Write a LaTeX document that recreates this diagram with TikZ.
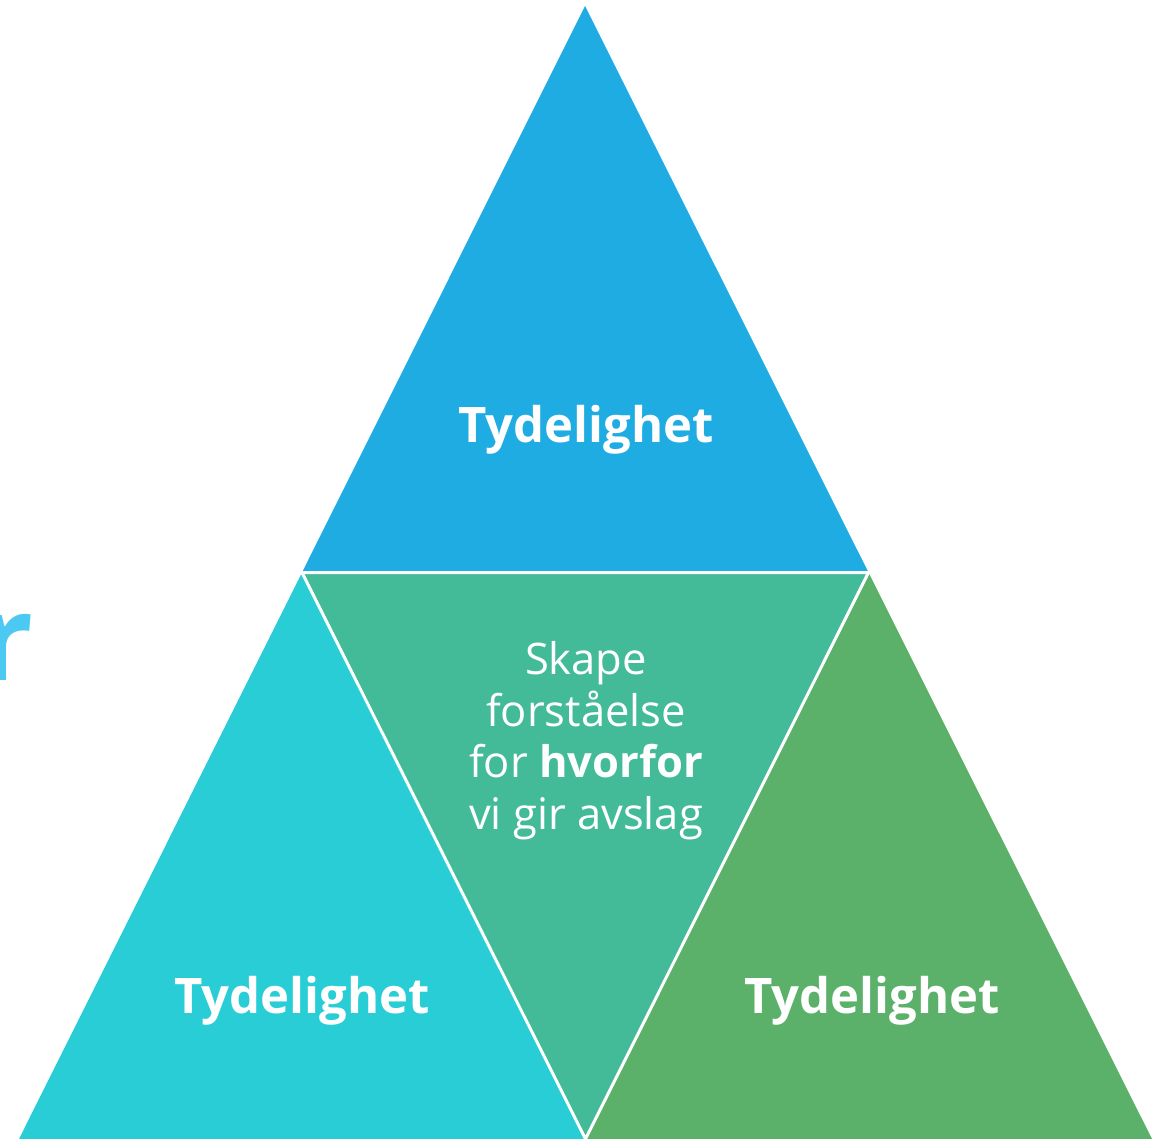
\documentclass[tikz,border=0pt]{standalone}
\usepackage{fontspec}
\setmainfont{Open Sans}
\definecolor{topblue}{HTML}{1EACE3}
\definecolor{leftcyan}{HTML}{29CDD6}
\definecolor{midgreen}{HTML}{44BB98}
\definecolor{rightgreen}{HTML}{5BB06A}
\definecolor{rblue}{HTML}{4BC9F2}
\tikzset{
  lbl/.style={text=white, font=\bfseries\fontsize{49}{58}\selectfont, inner sep=0pt},
  midtxt/.style={text=white, font=\fontsize{43.5}{51.5}\selectfont, align=center, inner sep=0pt},
  sep/.style={draw=white, line width=3pt, line join=miter}
}
\begin{document}
\begin{tikzpicture}[x=1pt,y=-1pt]
\useasboundingbox (0,0) rectangle (1167,1139);
\begin{scope}
\clip (0,0) rectangle (1167,1139);
\coordinate (A) at (585,6);
\coordinate (L) at (19,1139);
\coordinate (R) at (1152,1139);
\coordinate (ML) at (302,572.5);
\coordinate (MR) at (868.5,572.5);
\coordinate (MB) at (585.5,1139);
\fill[topblue] (A) -- (MR) -- (ML) -- cycle;
\fill[leftcyan] (ML) -- (MB) -- (L) -- cycle;
\fill[rightgreen] (MR) -- (R) -- (MB) -- cycle;
\fill[midgreen] (ML) -- (MR) -- (MB) -- cycle;
\draw[sep] (ML) -- (MR) -- (MB) -- cycle;
\node[text=rblue, font=\bfseries\fontsize{119}{119}\selectfont, inner sep=0pt, anchor=base east] (rfrag) at (34,680) {r};
\node[lbl, anchor=base] (ttop) at (586,442) {Tydelighet};
\node[lbl, anchor=base] (tleft) at (302,1013) {Tydelighet};
\node[lbl, anchor=base] (tright) at (872,1013) {Tydelighet};
\node[midtxt, anchor=base] (mid) at (586,829) {Skape\\forståelse\\for \textbf{hvorfor}\\vi gir avslag};
\end{scope}
\end{tikzpicture}
\end{document}
